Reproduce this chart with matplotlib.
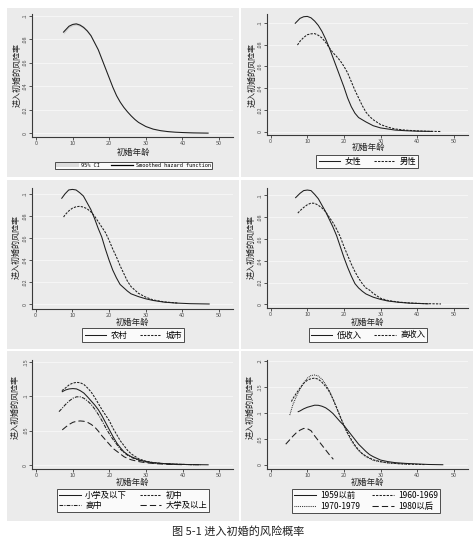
import matplotlib
matplotlib.use("Agg")
import matplotlib.pyplot as plt
from matplotlib.patches import Rectangle, Patch
from matplotlib.lines import Line2D

plt.rcParams['font.family'] = ['Noto Sans CJK SC', 'DejaVu Sans']

W, H = 476, 542

# ---------------- data ----------------
xticks = [0, 10, 20, 30, 40, 50]
xlabel = "初婚年龄"
ylabel = "进入初婚的风险率"
caption = "图 5-1 进入初婚的风险概率"

# Panel 1: overall smoothed hazard + CI
all_age = [7.5, 9, 10, 11, 12, 13, 14, 15, 16, 17, 18, 19, 20, 21, 22, 23, 24, 25, 26, 27, 28, 30, 32, 34, 36, 38, 40, 43, 47]
all_val = [0.086, 0.091, 0.0925, 0.093, 0.092, 0.090, 0.087, 0.083, 0.077, 0.071, 0.063, 0.055, 0.047, 0.039, 0.032,
           0.0265, 0.022, 0.0182, 0.0148, 0.0118, 0.0093, 0.0058, 0.0036, 0.0023, 0.0015, 0.001, 0.0007, 0.0004, 0.0002]
all_ci = [0.0016, 0.0012, 0.0011, 0.0011, 0.0011, 0.001, 0.001, 0.0009, 0.0009, 0.0008, 0.0008, 0.0007, 0.0007, 0.0006, 0.0006,
          0.0005, 0.0005, 0.0004, 0.0004, 0.0004, 0.0003, 0.0003, 0.0003, 0.0002, 0.0002, 0.0002, 0.0002, 0.0002, 0.0002]

# Panel 2: gender
female_age = [6.7, 8, 9, 10, 11, 12, 13, 14, 15, 16, 17, 18, 19, 20, 21, 22, 23, 24, 25, 26, 28, 30, 32, 34, 37, 40, 44]
female_val = [0.0995, 0.104, 0.1055, 0.1058, 0.1045, 0.1015, 0.0975, 0.092, 0.085, 0.077, 0.068, 0.059, 0.050, 0.041,
              0.031, 0.023, 0.017, 0.013, 0.011, 0.009, 0.0055, 0.0035, 0.0025, 0.0015, 0.0009, 0.0005, 0.0003]
male_age = [7.3, 8, 9, 10, 11, 12, 13, 14, 15, 16, 17, 18, 19, 20, 21, 22, 23, 24, 25, 26, 27, 28, 30, 32, 34, 37, 40, 43, 46.5]
male_val = [0.0795, 0.083, 0.0865, 0.089, 0.0898, 0.090, 0.0885, 0.086, 0.082, 0.077, 0.0725, 0.069, 0.065, 0.060, 0.054,
            0.046, 0.038, 0.031, 0.024, 0.018, 0.014, 0.011, 0.0066, 0.0042, 0.0025, 0.0014, 0.0008, 0.0004, 0.0002]

# Panel 3: rural / urban
rural_age = [7.1, 8, 9, 10, 11, 12, 13, 14, 15, 16, 17, 18, 19, 20, 21, 22, 23, 24, 25, 26, 28, 30, 32, 35, 38, 42, 47.3]
rural_val = [0.096, 0.100, 0.1035, 0.104, 0.1035, 0.101, 0.098, 0.092, 0.086, 0.078, 0.069, 0.061, 0.050, 0.040,
             0.031, 0.024, 0.018, 0.015, 0.012, 0.0095, 0.007, 0.005, 0.0035, 0.002, 0.0012, 0.0006, 0.0003]
urban_age = [7.6, 8, 9, 10, 11, 12, 13, 14, 15, 16, 17, 18, 19, 20, 21, 22, 23, 24, 25, 26, 27, 28, 30, 32, 35, 38.6]
urban_val = [0.079, 0.081, 0.0845, 0.087, 0.0883, 0.0887, 0.088, 0.0865, 0.0838, 0.080, 0.075, 0.070, 0.065, 0.058,
             0.050, 0.043, 0.035, 0.028, 0.021, 0.016, 0.013, 0.010, 0.0065, 0.004, 0.0022, 0.0012]

# Panel 4: income
lowinc_age = [6.8, 8, 9, 10, 11, 12, 13, 14, 15, 16, 17, 18, 19, 20, 21, 22, 23, 24, 25, 26, 28, 30, 32, 35, 38, 43]
lowinc_val = [0.098, 0.102, 0.1045, 0.105, 0.1045, 0.101, 0.097, 0.091, 0.085, 0.078, 0.071, 0.063, 0.053, 0.043,
              0.034, 0.026, 0.019, 0.015, 0.012, 0.0095, 0.0065, 0.0045, 0.003, 0.0018, 0.001, 0.0004]
highinc_age = [7.4, 8, 9, 10, 11, 12, 13, 14, 15, 16, 17, 18, 19, 20, 21, 22, 23, 24, 25, 26, 27, 28, 30, 32, 35, 38, 42, 46.5]
highinc_val = [0.0838, 0.086, 0.089, 0.0915, 0.093, 0.0928, 0.091, 0.0885, 0.085, 0.080, 0.075, 0.069, 0.062, 0.053,
               0.045, 0.037, 0.030, 0.024, 0.019, 0.015, 0.013, 0.010, 0.0055, 0.0035, 0.002, 0.0012, 0.0006, 0.0003]

# Panel 5: education
edu1_age = [7.1, 8, 9, 10, 11, 12, 13, 14, 15, 16, 17, 18, 19, 20, 21, 22, 23, 24, 25, 26, 28, 30, 32, 35, 38, 42, 47]
edu1_val = [0.1065, 0.109, 0.1105, 0.111, 0.1105, 0.108, 0.1045, 0.099, 0.093, 0.087, 0.080, 0.071, 0.061, 0.051,
            0.041, 0.032, 0.025, 0.019, 0.015, 0.012, 0.0075, 0.005, 0.0033, 0.002, 0.0012, 0.0006, 0.0003]
edu2_age = [7, 8, 9, 10, 11, 12, 13, 14, 15, 16, 17, 18, 19, 20, 21, 22, 23, 24, 25, 26, 28, 30, 32, 35, 38, 42, 45]
edu2_val = [0.108, 0.112, 0.1165, 0.119, 0.120, 0.1195, 0.117, 0.112, 0.106, 0.098, 0.089, 0.080, 0.072, 0.064,
            0.053, 0.044, 0.035, 0.028, 0.021, 0.016, 0.009, 0.0055, 0.0035, 0.002, 0.0012, 0.0006, 0.0003]
edu3_age = [6.2, 7, 8, 9, 10, 11, 12, 13, 14, 15, 16, 17, 18, 19, 20, 21, 22, 23, 24, 25, 26, 28, 30, 32, 35, 38, 44]
edu3_val = [0.0775, 0.082, 0.088, 0.093, 0.097, 0.099, 0.099, 0.097, 0.093, 0.088, 0.081, 0.073, 0.064, 0.054,
            0.045, 0.037, 0.030, 0.023, 0.018, 0.014, 0.011, 0.007, 0.0045, 0.003, 0.0018, 0.001, 0.0004]
edu4_age = [7.1, 8, 9, 10, 11, 12, 13, 14, 15, 16, 17, 18, 19, 20, 21, 22, 23, 24, 25, 26, 28, 30, 33, 36, 40]
edu4_val = [0.051, 0.055, 0.059, 0.062, 0.0635, 0.064, 0.0635, 0.062, 0.059, 0.055, 0.049, 0.042, 0.036, 0.030,
            0.024, 0.020, 0.016, 0.012, 0.0095, 0.0075, 0.005, 0.0032, 0.0018, 0.001, 0.0005]

# Panel 6: birth cohort
coh1_age = [7.5, 8, 9, 10, 11, 12, 13, 14, 15, 16, 17, 18, 19, 20, 21, 22, 23, 24, 25, 26, 27, 28, 30, 32, 34, 37, 40, 43, 47]
coh1_val = [0.1025, 0.104, 0.108, 0.111, 0.113, 0.115, 0.1148, 0.113, 0.110, 0.105, 0.099, 0.091, 0.083, 0.076, 0.067,
            0.058, 0.049, 0.040, 0.033, 0.026, 0.020, 0.016, 0.0095, 0.0065, 0.0045, 0.003, 0.002, 0.001, 0.0005]
coh2_age = [5.65, 6, 7, 8, 9, 10, 11, 12, 13, 14, 15, 16, 17, 18, 19, 20, 21, 22, 23, 24, 25, 26, 28, 30, 32, 35, 38, 42]
coh2_val = [0.122, 0.127, 0.138, 0.148, 0.157, 0.163, 0.166, 0.167, 0.165, 0.159, 0.151, 0.141, 0.127, 0.110, 0.093,
            0.076, 0.062, 0.049, 0.038, 0.029, 0.022, 0.017, 0.010, 0.0065, 0.0042, 0.0025, 0.0015, 0.0008]
coh3_age = [5.2, 6, 7, 8, 9, 10, 11, 12, 13, 14, 15, 16, 17, 18, 19, 20, 21, 22, 23, 24, 25, 26, 28, 30, 32, 35, 38]
coh3_val = [0.096, 0.115, 0.132, 0.146, 0.158, 0.167, 0.172, 0.173, 0.171, 0.165, 0.155, 0.143, 0.127, 0.110, 0.092,
            0.075, 0.060, 0.047, 0.036, 0.028, 0.021, 0.016, 0.009, 0.006, 0.004, 0.0025, 0.0015]
coh4_age = [4.1, 5, 6, 7, 8, 9, 10, 11, 12, 13, 14, 15, 16, 17.1]
coh4_val = [0.040, 0.047, 0.055, 0.062, 0.067, 0.0703, 0.0698, 0.066, 0.056, 0.047, 0.038, 0.029, 0.020, 0.011]

# ---------------- styling ----------------
BG = '#ebebeb'
LC = '#1e1e1e'
LW = 0.75
SOLID = '-'
DASH = (0, (2.2, 1.2))
DASHDOT = (0, (3.5, 1.2, 1, 1.2))
LONGDASH = (0, (6, 3))
DOT = (0, (0.8, 1.0))

fig = plt.figure(figsize=(W / 100, H / 100), dpi=100)
fig.patch.set_facecolor('white')


def frac(x0, y0, x1, y1):
    return [x0 / W, 1 - y1 / H, (x1 - x0) / W, (y1 - y0) / H]


def fx(x):
    return x / W


def fy(y):
    return 1 - y / H


# panel backgrounds
panels_px = [(7, 8, 239, 177), (241, 8, 473, 177),
             (7, 180, 239, 349), (241, 180, 473, 349),
             (7, 351, 239, 521), (241, 351, 473, 521)]
for (x0, y0, x1, y1) in panels_px:
    fig.patches.append(Rectangle((fx(x0), fy(y1)), (x1 - x0) / W, (y1 - y0) / H,
                                 transform=fig.transFigure, facecolor=BG, edgecolor='none', zorder=-10))


def fmt(v):
    if v == 0:
        return "0"
    s = ("%g" % v)
    return s.lstrip('0')


def make_ax(box, ylim, yticks):
    ax = fig.add_axes(frac(*box))
    ax.set_zorder(5)
    ax.set_facecolor('none')
    ax.set_xlim(-1.1, 53.8)
    ax.set_ylim(*ylim)
    for s in ['top', 'right']:
        ax.spines[s].set_visible(False)
    for s in ['left', 'bottom']:
        ax.spines[s].set_color('#3a3a3a')
        ax.spines[s].set_linewidth(0.8)
    ax.set_xticks(xticks)
    ax.set_xticklabels([str(t) for t in xticks], fontsize=4.0, color='#505050')
    ax.set_yticks(yticks)
    ax.set_yticklabels([fmt(t) for t in yticks], fontsize=4.0, color='#505050',
                       rotation=90, va='center')
    ax.tick_params(axis='both', length=2.0, width=0.6, color='#3a3a3a', pad=1.0)
    ax.grid(axis='y', color='#f6f6f6', linewidth=0.7)
    ax.set_axisbelow(True)
    return ax


def labels(xl, yl):
    fig.text(fx(xl[0]), fy(xl[1]), xlabel, fontsize=6, ha='center', va='center', color='#222222', zorder=6)
    fig.text(fx(yl[0]), fy(yl[1]), ylabel, fontsize=5.8, ha='center', va='center', rotation=90, color='#222222', zorder=6)


def box_legend(handles, names, box, ncol=1, fontsize=6, family=None, handlelength=2.6, colsp=1.5):
    x0, y0, x1, y1 = box
    kw = {}
    if family:
        kw['prop'] = {'family': family, 'size': fontsize}
    else:
        kw['fontsize'] = fontsize
    leg = fig.legend(handles, names, loc='center', bbox_to_anchor=(fx((x0 + x1) / 2), fy((y0 + y1) / 2)),
                     ncol=ncol, frameon=True, fancybox=False, borderpad=0.25, handlelength=handlelength,
                     handletextpad=0.5, columnspacing=colsp, labelspacing=0.15, borderaxespad=0, **kw)
    leg.set_zorder(6)
    fr = leg.get_frame()
    fr.set_edgecolor('#222222')
    fr.set_linewidth(0.7)
    fr.set_facecolor('white')
    return leg


def line(ax, x, y, ls):
    ax.plot(x, y, color=LC, lw=LW, linestyle=ls)
    return Line2D([], [], color=LC, lw=LW, linestyle=ls)


# Panel 1
ax = make_ax((32, 14, 233, 137), (-0.0031, 0.1014), [0, .02, .04, .06, .08, .1])
lo = [v - w for v, w in zip(all_val, all_ci)]
hi = [v + w for v, w in zip(all_val, all_ci)]
ax.fill_between(all_age, lo, hi, color='#d0d0d0', lw=0)
h1 = line(ax, all_age, all_val, SOLID)
labels((133, 152.5), (17.3, 75))
box_legend([Patch(facecolor='#dcdcdc', edgecolor='none'), Line2D([], [], color='black', lw=0.9)],
           ['95% CI', 'Smoothed hazard function'], (55, 161, 212, 170), ncol=2, fontsize=3.8,
           family='DejaVu Sans Mono', handlelength=4.3, colsp=2.0)

# Panel 2
ax = make_ax((266.7, 14, 467.7, 135), (-0.003, 0.108), [0, .02, .04, .06, .08, .1])
a = line(ax, female_age, female_val, SOLID)
b = line(ax, male_age, male_val, DASH)
labels((368.7, 147.5), (252.2, 75))
box_legend([a, b], ['女性', '男性'], (318.7, 155, 416, 168), ncol=2)

# Panel 3
ax = make_ax((31.7, 188.3, 233, 309.3), (-0.0045, 0.105), [0, .02, .04, .06, .08, .1])
a = line(ax, rural_age, rural_val, SOLID)
b = line(ax, urban_age, urban_val, DASH)
labels((132.7, 322.5), (16.2, 246.7))
box_legend([a, b], ['农村', '城市'], (85, 328.3, 181.7, 341.7), ncol=2)

# Panel 4
ax = make_ax((266.7, 188.3, 467.7, 308.3), (-0.0037, 0.1066), [0, .02, .04, .06, .08, .1])
a = line(ax, lowinc_age, lowinc_val, SOLID)
b = line(ax, highinc_age, highinc_val, DASH)
labels((367.7, 322.5), (251.5, 246.7))
box_legend([a, b], ['低收入', '高收入'], (310, 328.3, 426, 341.7), ncol=2)

# Panel 5
ax = make_ax((32.3, 360, 233, 469), (-0.0058, 0.1525), [0, .05, .1, .15])
a = line(ax, edu1_age, edu1_val, SOLID)
b = line(ax, edu2_age, edu2_val, DASH)
c = line(ax, edu3_age, edu3_val, DASHDOT)
d = line(ax, edu4_age, edu4_val, LONGDASH)
labels((132.7, 482.3), (15, 406.7))
box_legend([a, c, b, d], ['小学及以下', '高中', '初中', '大学及以上'], (58.3, 489, 208.3, 511.7), ncol=2)

# Panel 6
ax = make_ax((266.7, 360, 467.7, 469), (-0.0077, 0.2019), [0, .05, .1, .15, .2])
a = line(ax, coh1_age, coh1_val, SOLID)
b = line(ax, coh2_age, coh2_val, DASH)
c = line(ax, coh3_age, coh3_val, DOT)
d = line(ax, coh4_age, coh4_val, LONGDASH)
labels((367.7, 482.3), (250.5, 406.7))
box_legend([a, c, b, d], ['1959以前', '1970-1979', '1960-1969', '1980以后'], (296, 489, 436, 513), ncol=2)

fig.text(fx(238), fy(531.5), caption, fontsize=8, ha='center', va='center', color='#222222')

fig.savefig('out.png', dpi=100, facecolor='white')
